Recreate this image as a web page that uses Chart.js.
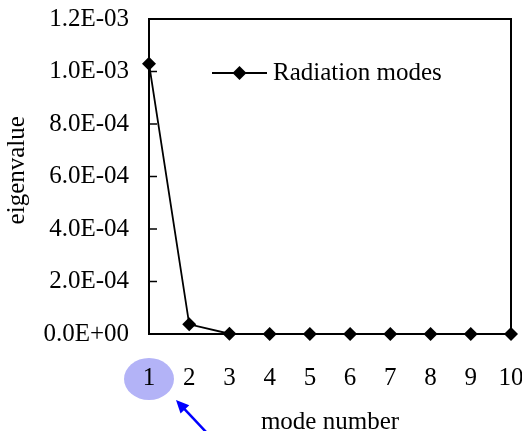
<!DOCTYPE html>
<html>
<head>
<meta charset="utf-8">
<script src="https://cdn.jsdelivr.net/npm/chart.js@4/dist/chart.umd.min.js"></script>
<style>
  html, body { margin: 0; padding: 0; background: #fff; }
  #wrap { width: 522px; height: 431px; }
</style>
</head>
<body>
<div id="wrap"><canvas id="modesChart" width="522" height="431"></canvas></div>
<script>
const modeNumbers = ['1', '2', '3', '4', '5', '6', '7', '8', '9', '10'];
const eigenvalues = [1.03e-3, 3.7e-5, 1.0e-6, 4.0e-7, 2.0e-7, 1.0e-7, 1.0e-7, 5.0e-8, 3.0e-8, 2.0e-8];
const seriesLabel = 'Radiation modes';
const yTicks = { min: 0, max: 1.2e-3, step: 2e-4 };

const serif = 'Liberation Serif, Times New Roman, serif';
const fontSize = 25;

// 1.0E-03 style labels with a two digit exponent
function sciLabel(v) {
  const parts = Number(v).toExponential(1).split('e');
  const exp = parseInt(parts[1], 10);
  const sign = exp < 0 ? '-' : '+';
  return parts[0] + 'E' + sign + String(Math.abs(exp)).padStart(2, '0');
}

// keep the plot box where the layout padding puts it
function noLabelPadding(scale) {
  scale.paddingTop = 0;
  scale.paddingBottom = 0;
  scale.paddingLeft = 0;
  scale.paddingRight = 0;
}

// box around the plot, inward ticks on the y axis, the legend and the marked label
const framePlugin = {
  id: 'frame',
  beforeDraw(chart) {
    const ctx = chart.ctx;
    const x = chart.scales.x;
    const cx = x.getPixelForValue(0);
    ctx.save();
    ctx.fillStyle = '#b3b3f7';
    ctx.beginPath();
    ctx.ellipse(cx, x.top + 45, 25, 21, 0, 0, Math.PI * 2);
    ctx.fill();
    ctx.restore();
  },
  afterDatasetsDraw(chart) {
    const ctx = chart.ctx;
    const area = chart.chartArea;
    const y = chart.scales.y;
    ctx.save();
    ctx.strokeStyle = '#000';
    ctx.lineWidth = 2;
    ctx.strokeRect(area.left, area.top, area.right - area.left, area.bottom - area.top);
    ctx.lineWidth = 1.5;
    y.ticks.forEach(t => {
      const py = y.getPixelForValue(t.value);
      ctx.beginPath();
      ctx.moveTo(area.left, py);
      ctx.lineTo(area.left + 8, py);
      ctx.stroke();
    });

    // legend entry
    const ly = area.top + 54;
    const lx = area.left + 63;
    ctx.lineWidth = 2;
    ctx.beginPath();
    ctx.moveTo(lx, ly);
    ctx.lineTo(lx + 55, ly);
    ctx.stroke();
    const mx = lx + 27.5, r = 7;
    ctx.fillStyle = '#000';
    ctx.beginPath();
    ctx.moveTo(mx, ly - r);
    ctx.lineTo(mx + r, ly);
    ctx.lineTo(mx, ly + r);
    ctx.lineTo(mx - r, ly);
    ctx.closePath();
    ctx.fill();
    ctx.font = fontSize + 'px ' + serif;
    ctx.textBaseline = 'middle';
    ctx.textAlign = 'left';
    ctx.fillText(chart.data.datasets[0].label, lx + 61, ly);
    ctx.restore();
  },
  afterDraw(chart) {
    // blue arrow pointing at the first mode label
    const ctx = chart.ctx;
    const x = chart.scales.x;
    const cx = x.getPixelForValue(0);
    const tipX = cx + 27, tipY = x.top + 66;
    const tailX = cx + 58, tailY = chart.height + 2;
    const ang = Math.atan2(tipY - tailY, tipX - tailX);
    const head = 13, half = 6;
    ctx.save();
    ctx.strokeStyle = '#0000ff';
    ctx.fillStyle = '#0000ff';
    ctx.lineWidth = 2.5;
    ctx.beginPath();
    ctx.moveTo(tailX, tailY);
    ctx.lineTo(tipX - Math.cos(ang) * head * 0.8, tipY - Math.sin(ang) * head * 0.8);
    ctx.stroke();
    ctx.beginPath();
    ctx.moveTo(tipX, tipY);
    ctx.lineTo(tipX - Math.cos(ang) * head - Math.sin(ang) * half, tipY - Math.sin(ang) * head + Math.cos(ang) * half);
    ctx.lineTo(tipX - Math.cos(ang) * head + Math.sin(ang) * half, tipY - Math.sin(ang) * head - Math.cos(ang) * half);
    ctx.closePath();
    ctx.fill();
    ctx.restore();
  }
};

const ctx = document.getElementById('modesChart').getContext('2d');
new Chart(ctx, {
  type: 'line',
  data: {
    labels: modeNumbers,
    datasets: [{
      label: seriesLabel,
      data: eigenvalues,
      borderColor: '#000',
      backgroundColor: '#000',
      borderWidth: 1.8,
      pointStyle: 'rectRot',
      pointRadius: 7,
      pointBorderWidth: 0,
      tension: 0,
      clip: false
    }]
  },
  options: {
    responsive: false,
    animation: false,
    layout: { padding: { top: 19, right: 11, left: 0, bottom: 0 } },
    plugins: {
      legend: { display: false },
      tooltip: { enabled: false }
    },
    scales: {
      x: {
        type: 'category',
        offset: false,
        grid: { display: false, drawTicks: false },
        border: { display: false },
        ticks: {
          color: '#000',
          padding: 29,
          maxRotation: 0,
          autoSkip: false,
          font: { family: serif, size: fontSize }
        },
        title: {
          display: true,
          text: 'mode number',
          color: '#000',
          font: { family: serif, size: fontSize, lineHeight: 0.72 },
          padding: { top: 0, bottom: 0 }
        },
        afterFit(scale) {
          scale.height = 97;
          noLabelPadding(scale);
        }
      },
      y: {
        min: yTicks.min,
        max: yTicks.max,
        grid: { display: false, drawTicks: false },
        border: { display: false },
        ticks: {
          stepSize: yTicks.step,
          color: '#000',
          padding: 20,
          font: { family: serif, size: fontSize },
          callback: v => sciLabel(v)
        },
        title: {
          display: true,
          // leading en space lifts the rotated title a little above the axis middle
          text: '\u2002eigenvalue',
          color: '#000',
          font: { family: serif, size: fontSize },
          padding: { top: 2, bottom: 0 }
        },
        afterFit(scale) {
          scale.width = 149;
          noLabelPadding(scale);
        }
      }
    }
  },
  plugins: [framePlugin]
});
</script>
</body>
</html>
